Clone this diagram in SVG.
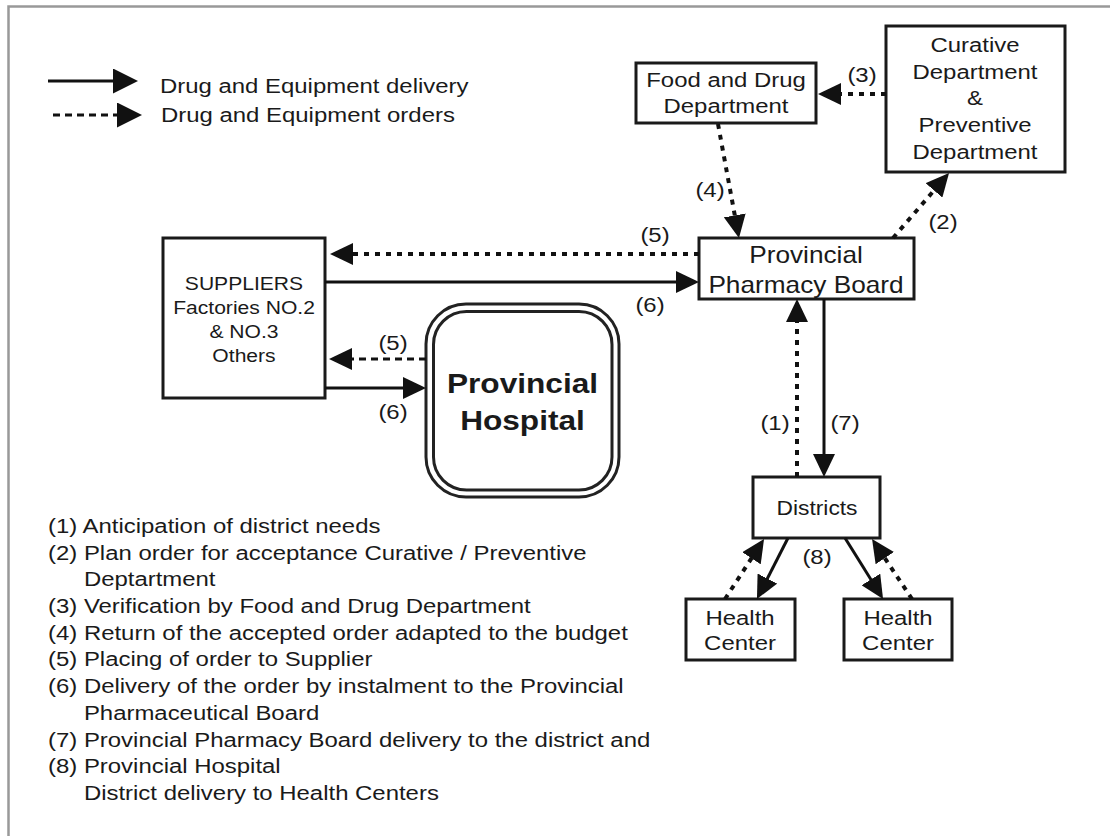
<svg xmlns="http://www.w3.org/2000/svg" width="1110" height="836" viewBox="0 0 1110 836">
<style>
.t{font-family:"Liberation Sans",Arial,sans-serif;font-size:21px;fill:#1a1a1a}
.c{text-anchor:middle}
.b{font-weight:bold;font-size:28px}
.box{fill:#fff;stroke:#1a1a1a;stroke-width:3}
.sol{stroke:#111;stroke-width:3;fill:none;marker-end:url(#ah)}
.dot{stroke:#111;stroke-width:4;fill:none;stroke-dasharray:5 6;marker-end:url(#ah)}
.dash{stroke:#111;stroke-width:3;fill:none;stroke-dasharray:7 5;marker-end:url(#ah)}
.lg{marker-end:url(#ahl)}
</style>
<defs>
<marker id="ah" markerUnits="userSpaceOnUse" markerWidth="23" markerHeight="22" refX="11" refY="11" orient="auto">
<path d="M0,0 L23,11 L0,22 Z" fill="#111"/>
</marker>
<marker id="ahl" markerUnits="userSpaceOnUse" markerWidth="25" markerHeight="25" refX="13" refY="12.5" orient="auto">
<path d="M0,0 L25,12.5 L0,25 Z" fill="#111"/>
</marker>
</defs>
<rect width="1110" height="836" fill="#fff"/>
<path d="M8.5,836 V6.5 H1110" fill="none" stroke="#999" stroke-width="2.5"/>

<g id="legend">
<line class="sol lg" x1="48" y1="81" x2="126" y2="81"/>
<line class="dash lg" x1="53" y1="115" x2="130" y2="115"/>
<text class="t" transform="translate(160,93) scale(1.14,1)">Drug and Equipment delivery</text>
<text class="t" transform="translate(161,122) scale(1.14,1)">Drug and Equipment orders</text>
</g>

<g id="fdd">
<rect class="box" x="636" y="63" width="180" height="60"/>
<text class="t c" transform="translate(726,87) scale(1.14,1)"><tspan x="0">Food and Drug</tspan><tspan x="0" dy="26">Department</tspan></text>
</g>

<g id="curative">
<rect class="box" x="886" y="26" width="179" height="146"/>
<text class="t c" transform="translate(975,52) scale(1.14,1)"><tspan x="0">Curative</tspan><tspan x="0" dy="26.7">Department</tspan><tspan x="0" dy="26.7">&amp;</tspan><tspan x="0" dy="26.7">Preventive</tspan><tspan x="0" dy="26.7">Department</tspan></text>
</g>

<g id="ppb">
<rect class="box" x="699" y="238" width="215" height="61"/>
<text class="t c" style="font-size:23px" transform="translate(806,263) scale(1.14,1)"><tspan x="0">Provincial</tspan><tspan x="0" dy="30">Pharmacy Board</tspan></text>
</g>

<g id="suppliers">
<rect class="box" x="163" y="238" width="162" height="160"/>
<text class="t c" style="font-size:18.5px" transform="translate(244,290) scale(1.14,1)"><tspan x="0">SUPPLIERS</tspan><tspan x="0" dy="24">Factories NO.2</tspan><tspan x="0" dy="24">&amp; NO.3</tspan><tspan x="0" dy="24">Others</tspan></text>
</g>

<g id="hospital">
<rect x="426" y="304" width="193" height="193" rx="40" fill="#fff" stroke="#222" stroke-width="3"/>
<rect x="433.5" y="311.5" width="178.5" height="178.5" rx="33" fill="none" stroke="#222" stroke-width="3"/>
<text class="t c b" transform="translate(522.5,393) scale(1.13,1)"><tspan x="0">Provincial</tspan><tspan x="0" dy="37">Hospital</tspan></text>
</g>

<g id="districts">
<rect class="box" x="753" y="477" width="127" height="61"/>
<text class="t c" style="font-size:20px" transform="translate(817,515) scale(1.14,1)">Districts</text>
</g>

<g id="hc1">
<rect class="box" x="686" y="599" width="109" height="61"/>
<text class="t c" transform="translate(740,625) scale(1.14,1)"><tspan x="0">Health</tspan><tspan x="0" dy="25">Center</tspan></text>
</g>

<g id="hc2">
<rect class="box" x="844" y="599" width="108" height="61"/>
<text class="t c" transform="translate(898,625) scale(1.14,1)"><tspan x="0">Health</tspan><tspan x="0" dy="25">Center</tspan></text>
</g>

<g id="connectors">
<line class="dot" x1="886" y1="94" x2="830" y2="94"/>
<line class="dot" x1="718" y1="124" x2="736.8" y2="226.2"/>
<line class="dot" x1="893" y1="238" x2="941.2" y2="182.1"/>
<line class="dot" x1="699" y1="254" x2="342" y2="254"/>
<line class="sol" x1="325" y1="282" x2="687" y2="282"/>
<line class="dash" x1="426" y1="359" x2="341" y2="359"/>
<line class="sol" x1="325" y1="388" x2="414" y2="388"/>
<line class="dot" x1="797" y1="477" x2="797" y2="311"/>
<line class="sol" x1="824" y1="299" x2="824" y2="465"/>
<line class="sol" x1="788" y1="538" x2="762.4" y2="588.3"/>
<line class="dot" x1="725" y1="599" x2="757.5" y2="549.1"/>
<line class="sol" x1="845" y1="538" x2="876.7" y2="588.8"/>
<line class="dot" x1="912" y1="599" x2="878.7" y2="549"/>
</g>

<g id="labels">
<text class="t c" transform="translate(862,82) scale(1.14,1)">(3)</text>
<text class="t c" transform="translate(710,197) scale(1.14,1)">(4)</text>
<text class="t c" transform="translate(943,229) scale(1.14,1)">(2)</text>
<text class="t c" transform="translate(655,242) scale(1.14,1)">(5)</text>
<text class="t c" transform="translate(650,312) scale(1.14,1)">(6)</text>
<text class="t c" transform="translate(393,350) scale(1.14,1)">(5)</text>
<text class="t c" transform="translate(393,419) scale(1.14,1)">(6)</text>
<text class="t c" transform="translate(775,430) scale(1.14,1)">(1)</text>
<text class="t c" transform="translate(845,430) scale(1.14,1)">(7)</text>
<text class="t c" transform="translate(817,564) scale(1.14,1)">(8)</text>
</g>

<g id="notes">
<text class="t" transform="translate(48,533) scale(1.14,1)"><tspan x="0">(1) Anticipation of district needs</tspan><tspan x="0" dy="26.7">(2) Plan order for acceptance Curative / Preventive</tspan><tspan x="31.5" dy="26.7">Deptartment</tspan><tspan x="0" dy="26.7">(3) Verification by Food and Drug Department</tspan><tspan x="0" dy="26.7">(4) Return of the accepted order adapted to the budget</tspan><tspan x="0" dy="26.7">(5) Placing of order to Supplier</tspan><tspan x="0" dy="26.7">(6) Delivery of the order by instalment to the Provincial</tspan><tspan x="31.5" dy="26.7">Pharmaceutical Board</tspan><tspan x="0" dy="26.7">(7) Provincial Pharmacy Board delivery to the district and</tspan><tspan x="0" dy="26.7">(8) Provincial Hospital</tspan><tspan x="31.5" dy="26.7">District delivery to Health Centers</tspan></text>
</g>
</svg>
